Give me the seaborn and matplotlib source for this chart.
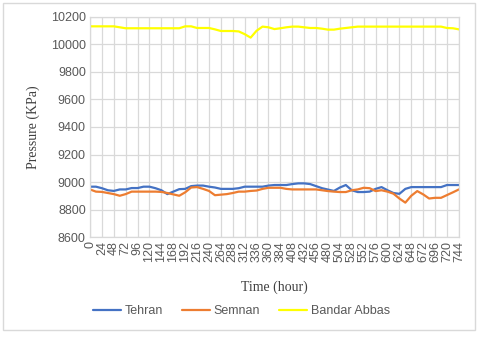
import matplotlib.pyplot as plt
import matplotlib.patches as mpatches
import pandas as pd
import seaborn as sns

# --- data (every 12 hours) ---
hours = list(range(0, 745, 12))

tehran = [8966, 8966, 8955, 8940, 8935, 8946, 8946, 8956, 8956, 8966,
          8966, 8955, 8940, 8912, 8930, 8948, 8950, 8970, 8974, 8974,
          8966, 8960, 8950, 8950, 8950, 8955, 8966, 8966, 8966, 8966,
          8974, 8978, 8978, 8978, 8985, 8990, 8990, 8985, 8970, 8955,
          8945, 8935, 8960, 8978, 8940, 8927, 8927, 8930, 8950, 8963,
          8940, 8920, 8914, 8950, 8963, 8963, 8963, 8963, 8963, 8963,
          8978, 8978, 8978]

semnan = [8946, 8930, 8928, 8920, 8912, 8900, 8912, 8930, 8930, 8930,
          8930, 8930, 8928, 8920, 8910, 8900, 8925, 8960, 8963, 8950,
          8935, 8904, 8908, 8912, 8920, 8930, 8930, 8935, 8938, 8950,
          8958, 8958, 8958, 8950, 8946, 8946, 8946, 8946, 8946, 8940,
          8934, 8930, 8927, 8927, 8940, 8946, 8958, 8955, 8934, 8940,
          8930, 8915, 8880, 8850, 8900, 8934, 8910, 8880, 8885, 8885,
          8905, 8925, 8946]

bandar_abbas = [10132, 10132, 10132, 10132, 10132, 10125, 10118, 10118, 10118, 10118,
                10118, 10118, 10118, 10118, 10118, 10118, 10132, 10132, 10120, 10120,
                10120, 10110, 10098, 10098, 10098, 10095, 10075, 10050, 10100, 10130,
                10125, 10112, 10118, 10125, 10130, 10130, 10125, 10120, 10120, 10115,
                10108, 10108, 10115, 10120, 10125, 10130, 10130, 10130, 10130, 10130,
                10130, 10130, 10130, 10130, 10130, 10130, 10130, 10130, 10130, 10130,
                10120, 10118, 10110]

series_names = ['Tehran', 'Semnan', 'Bandar Abbas']
colors = ['#4472C4', '#ED7D31', '#FFFF00']
x_ticks = list(range(0, 745, 24))
y_ticks = list(range(8600, 10201, 200))

df = pd.concat([
    pd.DataFrame({'hour': hours, 'pressure': vals, 'city': name})
    for name, vals in zip(series_names, [tehran, semnan, bandar_abbas])
])

sns.set_style("white")
plt.rcParams['font.family'] = ['Liberation Sans', 'DejaVu Sans']

fig = plt.figure(figsize=(4.8, 3.37), dpi=100)
ax = fig.add_axes([0.1875, 0.2967, 0.956 - 0.1875, 0.9496 - 0.2967])

sns.lineplot(data=df, x='hour', y='pressure', hue='city',
             palette=colors, hue_order=series_names, linewidth=1.6, ax=ax, legend=False)

grid_c = '#d9d9d9'
ax.set_xlim(0, 744)
ax.set_ylim(8600, 10200)
ax.set_xticks(x_ticks)
ax.set_xticklabels([str(t) for t in x_ticks], rotation=90)
ax.set_yticks(y_ticks)
ax.tick_params(axis='both', length=0, labelsize=9, colors='#595959', pad=3)
ax.grid(True, color=grid_c, linewidth=0.9)
ax.set_axisbelow(True)
for s in ax.spines.values():
    s.set_color(grid_c)
    s.set_linewidth(0.9)

ax.set_xlabel('Time (hour)', family='Liberation Serif', fontsize=10, color='#404040', labelpad=13)
ax.set_ylabel('Pressure (KPa)', family='Liberation Serif', fontsize=10, color='#404040', labelpad=8)

handles = [plt.Line2D([], [], color=c, linewidth=1.6) for c in colors]
fig.legend(handles, series_names, loc='center', bbox_to_anchor=(0.503, 1 - 311 / 337),
           ncol=3, frameon=False, fontsize=9, handlelength=2.25, handletextpad=0.3,
           columnspacing=1.5, labelcolor='#595959')

# outer chart border
fig.patches.append(mpatches.Rectangle((3 / 480, 1 - 330 / 337), 472 / 480, 327 / 337,
                                      transform=fig.transFigure, fill=False,
                                      edgecolor=grid_c, linewidth=1))

fig.savefig('out.png', dpi=100)
